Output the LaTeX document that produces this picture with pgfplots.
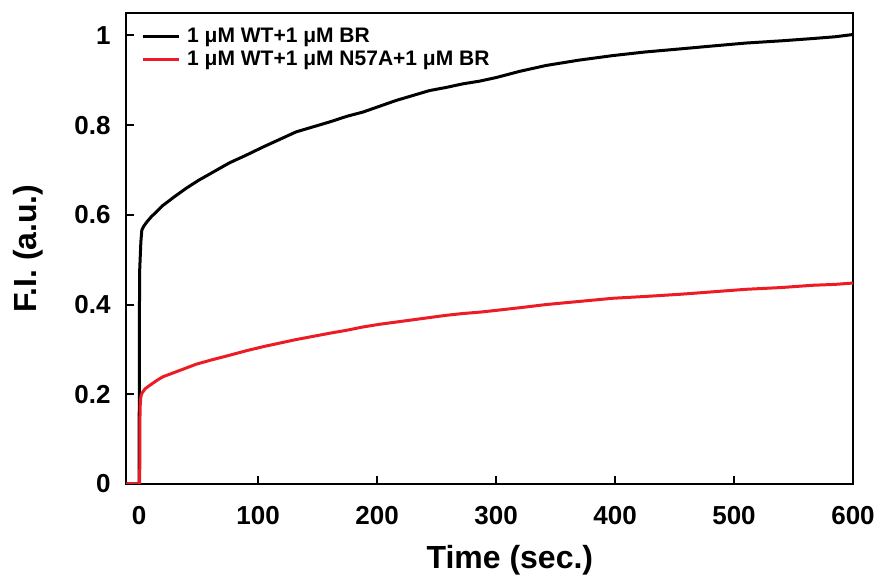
\documentclass[border=0pt]{standalone}
\usepackage{fontspec}
\setmainfont{Liberation Sans}
\usepackage{pgfplots}
\pgfplotsset{compat=1.18}
\usetikzlibrary{calc}
\definecolor{myred}{RGB}{237,28,36}
\begin{document}
\begin{tikzpicture}
\begin{axis}[
  scale only axis, width=727pt, height=471pt,
  xmin=-11, xmax=600, ymin=0, ymax=1.05,
  axis line style={line width=2.5pt},
  xtick={0,100,200,300,400,500,600},
  ytick={0,0.2,0.4,0.6,0.8,1},
  yticklabels={0,0.2,0.4,0.6,0.8,1},
  tick align=inside, xtick pos=bottom, ytick pos=left,
  major tick length=8pt,
  tick style={line width=2pt, black},
  /pgf/number format/assume math mode=true,
  ticklabel style={font=\fontsize{26}{30}\selectfont\bfseries},
  xticklabel style={yshift=-19pt},
  yticklabel style={xshift=-12pt},
  label style={font=\fontsize{32}{36}\selectfont\bfseries},
  xlabel={Time (sec.)},
  ylabel={F.I. (a.u.)},
  xlabel style={at={(axis description cs:0.528,-0.161)}, anchor=center},
  ylabel style={at={(axis description cs:-0.135,0.5)}, anchor=center},
  legend style={draw=none, fill=none, at={(axis description cs:0,1)}, anchor=north west,
    inner sep=0pt, xshift=15pt, yshift=-12pt, row sep=0pt,
    font=\fontsize{21}{23}\selectfont\bfseries,
    nodes={inner sep=2pt, text height=15pt, text depth=4pt},
    /tikz/every odd column/.append style={column sep=5pt}},
  legend cell align=left,
  legend image code/.code={\draw[#1, line width=3pt] (0pt,0pt) -- (36pt,0pt);},
]
\addplot[black, line width=3pt] coordinates {
(-11,0) (0,0) (0.4,0.47) (1.5,0.54) (2.3,0.566) (4,0.575) (6.5,0.584) (10,0.595)
(15,0.608) (20,0.621) (30,0.641) (40,0.660) (50,0.677) (60,0.692) (76,0.716)
(90,0.733) (104,0.751) (118,0.768) (132,0.785) (146,0.796) (160,0.807) (175,0.820)
(188,0.829) (202,0.842) (216,0.855) (230,0.866) (244,0.877) (258,0.884) (272,0.892)
(286,0.898) (300,0.906) (320,0.920) (342,0.933) (370,0.945) (398,0.955) (425,0.963)
(455,0.970) (480,0.976) (510,0.983) (540,0.988) (566,0.993) (585,0.997) (600,1.002)
};
\addlegendentry{1 μM WT+1 μM BR}
\addplot[myred, line width=3pt] coordinates {
(-11,0) (0.5,0) (0.8,0.17) (1.5,0.195) (2.3,0.202) (5,0.212) (9,0.220) (15,0.231)
(20,0.239) (30,0.249) (40,0.259) (48,0.267) (60,0.276) (76,0.287) (90,0.297)
(104,0.306) (118,0.314) (132,0.322) (146,0.329) (160,0.336) (175,0.343) (188,0.350)
(202,0.356) (216,0.361) (230,0.366) (244,0.371) (258,0.376) (272,0.380) (286,0.383)
(300,0.387) (320,0.393) (342,0.400) (370,0.407) (398,0.414) (425,0.418) (455,0.423)
(480,0.428) (510,0.434) (540,0.438) (566,0.443) (585,0.445) (600,0.448)
};
\addlegendentry{1 μM WT+1 μM N57A+1 μM BR}
\end{axis}
\pgfresetboundingbox
\path ($(current axis.south west)+(-126pt,-96pt)$) rectangle ($(current axis.north east)+(28pt,13pt)$);
\end{tikzpicture}
\end{document}
